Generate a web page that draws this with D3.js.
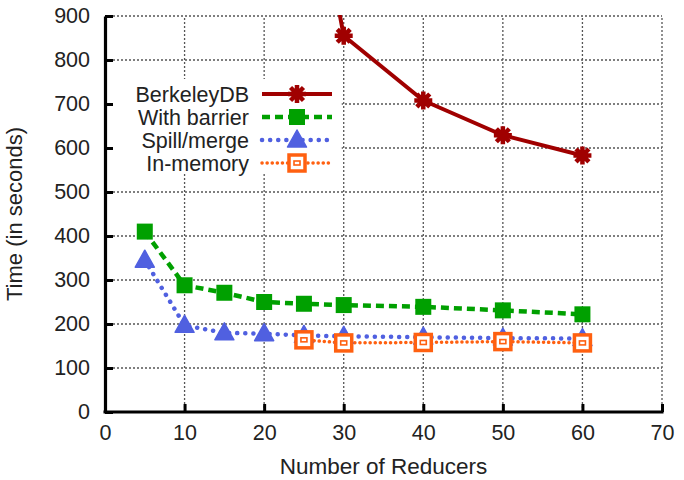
<!DOCTYPE html>
<html>
<head>
<meta charset="utf-8">
<script src="https://cdn.jsdelivr.net/npm/d3@7"></script>
<style>
  body { margin: 0; background: #fff; }
  text { font-family: "Liberation Sans", Arial, sans-serif; fill: #222; }
</style>
</head>
<body>
<div id="chart"></div>
<script>
// values
const berkeleyX = [25, 30, 40, 50, 60];
const berkeleyY = [1340, 855, 708, 629, 583];
const barrierX = [5, 10, 15, 20, 25, 30, 40, 50, 60];
const barrierY = [410, 288, 271, 250, 246, 243, 239, 231, 222];
const spillX = [5, 10, 15, 20, 25, 30, 40, 50, 60];
const spillY = [345, 197, 180, 178, 174, 172, 170, 168, 167];
const memoryX = [25, 30, 40, 50, 60];
const memoryY = [164, 157, 158, 160, 157];
const xTicks = [0, 10, 20, 30, 40, 50, 60, 70];
const yTicks = [0, 100, 200, 300, 400, 500, 600, 700, 800, 900];
const seriesNames = ["BerkeleyDB", "With barrier", "Spill/merge", "In-memory"];

const width = 684, height = 480;
const margin = { top: 16, right: 22, bottom: 68, left: 105 };

const svg = d3.select("#chart").append("svg")
  .attr("width", width).attr("height", height);

const x = d3.scaleLinear().domain([0, 70]).range([margin.left, width - margin.right]);
const y = d3.scaleLinear().domain([0, 900]).range([height - margin.bottom, margin.top]);

// grid
const grid = svg.append("g").attr("stroke", "#555").attr("stroke-width", 1.3)
  .attr("stroke-dasharray", "2,2");
grid.selectAll(".gx").data(xTicks.filter(d => d > 0)).join("line")
  .attr("x1", d => x(d)).attr("x2", d => x(d))
  .attr("y1", y(0)).attr("y2", y(900));
grid.selectAll(".gy").data(yTicks.filter(d => d > 0)).join("line")
  .attr("x1", x(0)).attr("x2", x(70))
  .attr("y1", d => y(d)).attr("y2", d => y(d));

// legend box hides the grid behind it
svg.append("rect").attr("x", x(0) + 2).attr("y", 79)
  .attr("width", x(30) - x(0) - 4).attr("height", 94).attr("fill", "#fff");

// axes
const xAxis = svg.append("g")
  .attr("transform", `translate(0,${y(0)})`)
  .call(d3.axisBottom(x).tickValues(xTicks).tickSizeInner(-8).tickSizeOuter(0).tickPadding(13));
const yAxis = svg.append("g")
  .attr("transform", `translate(${x(0)},0)`)
  .call(d3.axisLeft(y).tickValues(yTicks).tickSizeInner(-8).tickSizeOuter(0).tickPadding(15));
[xAxis, yAxis].forEach(a => {
  a.select(".domain").attr("stroke", "#000").attr("stroke-width", 3.2);
  a.selectAll(".tick line").attr("stroke", "#000").attr("stroke-width", 3);
  a.selectAll(".tick text").attr("font-size", 21.5).attr("fill", "#222")
    .attr("font-family", "Liberation Sans, Arial, sans-serif");
});
xAxis.select(".domain").attr("d", `M${x(0) - 1.5},0H${x(70) + 1.5}`);

svg.append("text").attr("x", x(35)).attr("y", 474).attr("text-anchor", "middle")
  .attr("font-size", 22.5).text("Number of Reducers");
svg.append("text").attr("transform", `translate(22,${y(450)}) rotate(-90)`)
  .attr("text-anchor", "middle").attr("font-size", 22).text("Time (in seconds)");

// clip
svg.append("clipPath").attr("id", "plot").append("rect")
  .attr("x", x(0)).attr("y", y(900) - 1).attr("width", x(70) - x(0)).attr("height", y(0) - y(900) + 1);

const styles = [
  { color: "#a00000", dash: null, width: 4, cap: "butt", marker: "star" },
  { color: "#00a000", dash: "8,5", width: 4.5, cap: "butt", marker: "square" },
  { color: "#5060e0", dash: "0.1,8", width: 4.5, cap: "round", marker: "triangle" },
  { color: "#ff6010", dash: "0.1,5", width: 3.5, cap: "round", marker: "box" }
];
const seriesData = [
  d3.zip(berkeleyX, berkeleyY),
  d3.zip(barrierX, barrierY),
  d3.zip(spillX, spillY),
  d3.zip(memoryX, memoryY)
];

function drawMarker(g, kind, color) {
  if (kind === "star") {
    const r = 9;
    g.append("path")
      .attr("d", `M${-r},0H${r}M0,${-r}V${r}M${-r * 0.72},${-r * 0.72}L${r * 0.72},${r * 0.72}M${-r * 0.72},${r * 0.72}L${r * 0.72},${-r * 0.72}`)
      .attr("stroke", color).attr("stroke-width", 4.5).attr("fill", "none");
  } else if (kind === "square") {
    g.append("rect").attr("x", -8).attr("y", -8).attr("width", 16).attr("height", 16).attr("fill", color);
  } else if (kind === "triangle") {
    g.append("path").attr("d", "M0,-10L9.5,7L-9.5,7Z").attr("fill", color)
      .attr("stroke", color).attr("stroke-width", 1.5).attr("stroke-linejoin", "round");
  } else {
    g.append("rect").attr("x", -8).attr("y", -8).attr("width", 16).attr("height", 16)
      .attr("fill", "#fff").attr("stroke", color).attr("stroke-width", 3.5);
    g.append("rect").attr("x", -3).attr("y", -2).attr("width", 6).attr("height", 4)
      .attr("fill", "none").attr("stroke", color).attr("stroke-width", 1.6);
  }
}

const plot = svg.append("g").attr("clip-path", "url(#plot)");
const line = d3.line().x(d => x(d[0])).y(d => y(d[1]));
seriesData.forEach((data, i) => {
  const s = styles[i];
  plot.append("path").datum(data).attr("d", line)
    .attr("fill", "none").attr("stroke", s.color).attr("stroke-width", s.width)
    .attr("stroke-dasharray", s.dash).attr("stroke-linecap", s.cap).attr("stroke-linejoin", "round");
});
seriesData.forEach((data, i) => {
  data.filter(d => d[1] <= 900).forEach(d => {
    const g = plot.append("g").attr("transform", `translate(${x(d[0])},${y(d[1])})`);
    drawMarker(g, styles[i].marker, styles[i].color);
  });
});

// legend
const legend = svg.append("g");
seriesNames.forEach((name, i) => {
  const cy = 94 + i * 23;
  const s = styles[i];
  legend.append("text").attr("x", 249).attr("y", cy + 8).attr("text-anchor", "end")
    .attr("font-size", 21.5).text(name);
  legend.append("line").attr("x1", 262).attr("x2", 332).attr("y1", cy).attr("y2", cy)
    .attr("stroke", s.color).attr("stroke-width", s.width)
    .attr("stroke-dasharray", s.dash).attr("stroke-linecap", s.cap);
  const g = legend.append("g").attr("transform", `translate(297,${cy})`);
  drawMarker(g, s.marker, s.color);
});
</script>
</body>
</html>
